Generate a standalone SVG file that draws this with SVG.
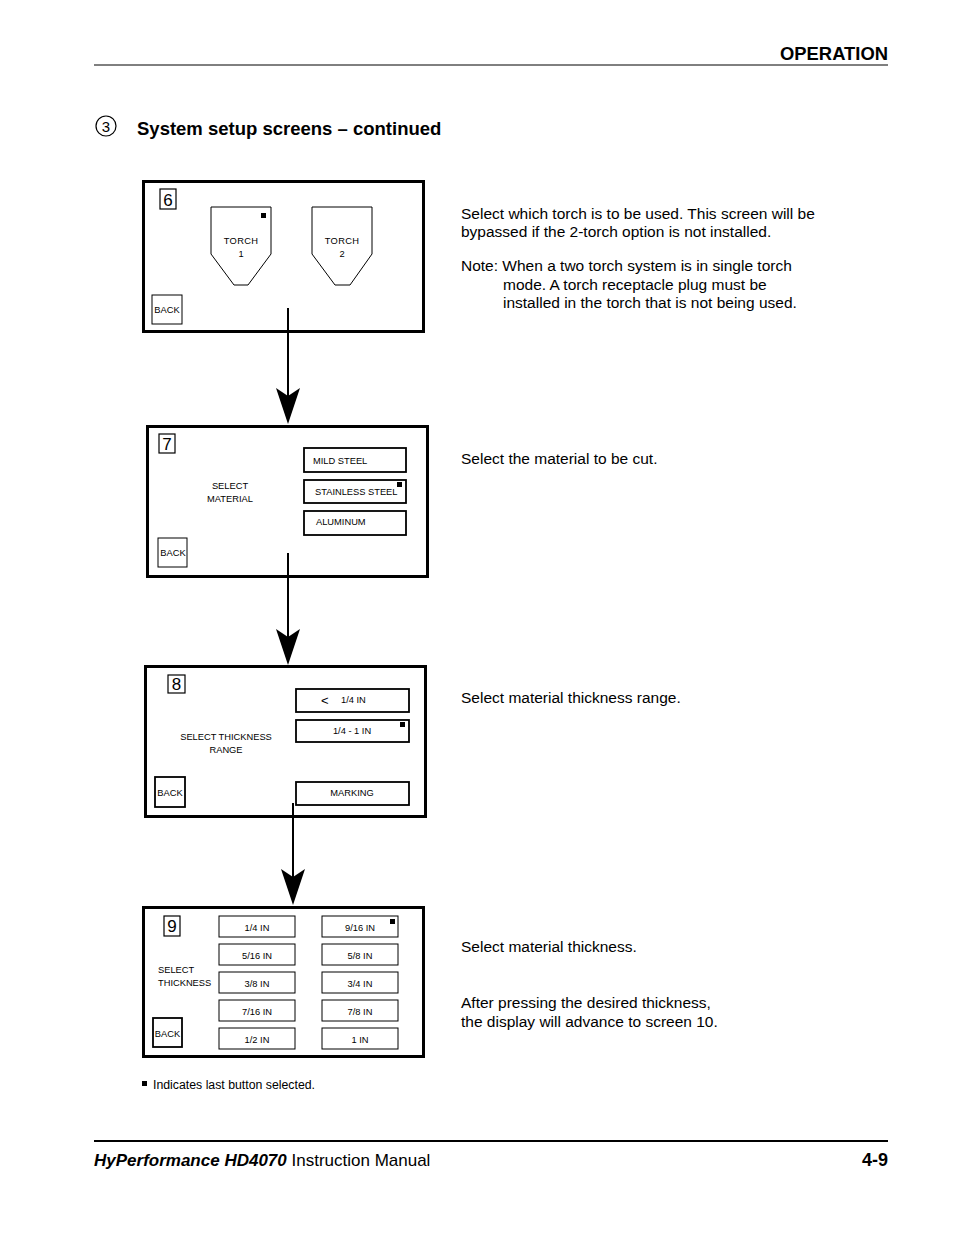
<svg xmlns="http://www.w3.org/2000/svg" width="954" height="1235" viewBox="0 0 954 1235">
<defs>
<style>
text{font-family:"Liberation Sans",Arial,sans-serif;fill:#000}
.scr{fill:#fff;stroke:#000;stroke-width:3}
.btn{fill:#fff;stroke:#000;stroke-width:1.8}
.thin{fill:#fff;stroke:#000;stroke-width:1}
.num{fill:#fff;stroke:#000;stroke-width:1.2}
.s{font-size:9.3px}
.n{font-size:17px}
.d{font-size:15.5px}
.mk{fill:#000}
.conn{stroke:#000;stroke-width:2;fill:none}
.head{fill:#000}
</style>
</defs>
<rect width="954" height="1235" fill="#fff"/>

<g id="header">
<text x="888" y="60" text-anchor="end" font-size="18.4" font-weight="bold">OPERATION</text>
<line x1="94" y1="65" x2="888" y2="65" stroke="#000" stroke-width="1"/>
<circle cx="106" cy="126" r="10" fill="none" stroke="#000" stroke-width="1.2"/>
<text x="106" y="131.5" text-anchor="middle" font-size="15">3</text>
<text x="137" y="135" font-size="18.5" font-weight="bold">System setup screens – continued</text>
</g>

<g id="screen6">
<rect class="scr" x="143.5" y="181.5" width="280" height="150"/>
<rect class="num" x="160" y="189" width="16" height="20"/>
<text x="168" y="206" text-anchor="middle" class="n">6</text>
<path class="thin" d="M211,207 H271 V254 L248,285 H234 L211,254 Z"/>
<rect class="mk" x="261" y="213" width="5" height="5"/>
<text x="241" y="244" text-anchor="middle" class="s" letter-spacing="0.3">TORCH</text>
<text x="241" y="257" text-anchor="middle" class="s">1</text>
<path class="thin" d="M312,207 H372 V254 L350,285 H335 L312,254 Z"/>
<text x="342" y="244" text-anchor="middle" class="s" letter-spacing="0.3">TORCH</text>
<text x="342" y="257" text-anchor="middle" class="s">2</text>
<rect class="thin" x="152" y="295" width="30" height="29"/>
<text x="167" y="313" text-anchor="middle" class="s">BACK</text>
</g>

<g id="screen7">
<rect class="scr" x="147.5" y="426.5" width="280" height="150"/>
<rect class="num" x="159" y="434" width="16" height="19"/>
<text x="167" y="450" text-anchor="middle" class="n">7</text>
<rect class="btn" x="304" y="448" width="102" height="24"/>
<text x="313" y="464" class="s">MILD STEEL</text>
<rect class="btn" x="304" y="480" width="102" height="23"/>
<text x="315" y="495" class="s">STAINLESS STEEL</text>
<rect class="mk" x="397" y="482" width="5" height="5"/>
<rect class="btn" x="304" y="511" width="102" height="24"/>
<text x="316" y="525" class="s">ALUMINUM</text>
<text x="230" y="489" text-anchor="middle" class="s">SELECT</text>
<text x="230" y="502" text-anchor="middle" class="s">MATERIAL</text>
<rect class="thin" x="158" y="538" width="29" height="29"/>
<text x="173" y="556" text-anchor="middle" class="s">BACK</text>
</g>

<g id="screen8">
<rect class="scr" x="145.5" y="666.5" width="280" height="150"/>
<rect class="num" x="168" y="675" width="17" height="18"/>
<text x="176.5" y="690" text-anchor="middle" class="n">8</text>
<rect class="btn" x="296" y="689" width="113" height="23"/>
<text x="321" y="705" font-size="13">&lt;</text>
<text x="341" y="703" class="s">1/4 IN</text>
<rect class="btn" x="296" y="720" width="113" height="22"/>
<text x="352" y="734" text-anchor="middle" class="s">1/4 - 1 IN</text>
<rect class="mk" x="400" y="722" width="5" height="5"/>
<rect class="btn" x="296" y="782" width="113" height="23"/>
<text x="352" y="796" text-anchor="middle" class="s">MARKING</text>
<text x="226" y="740" text-anchor="middle" class="s">SELECT THICKNESS</text>
<text x="226" y="753" text-anchor="middle" class="s">RANGE</text>
<rect class="btn" x="155" y="777" width="30" height="30"/>
<text x="170" y="796" text-anchor="middle" class="s">BACK</text>
</g>

<g id="screen9">
<rect class="scr" x="143.5" y="907.5" width="280" height="149"/>
<rect class="num" x="164" y="916" width="16" height="20"/>
<text x="172" y="932" text-anchor="middle" class="n">9</text>
<g class="s" text-anchor="middle">
<rect class="thin" x="219" y="916" width="76" height="21"/><text x="257" y="931">1/4 IN</text>
<rect class="thin" x="219" y="944" width="76" height="21"/><text x="257" y="959">5/16 IN</text>
<rect class="thin" x="219" y="972" width="76" height="21"/><text x="257" y="987">3/8 IN</text>
<rect class="thin" x="219" y="1000" width="76" height="21"/><text x="257" y="1015">7/16 IN</text>
<rect class="thin" x="219" y="1028" width="76" height="21"/><text x="257" y="1043">1/2 IN</text>
<rect class="thin" x="322" y="916" width="76" height="21"/><text x="360" y="931">9/16 IN</text>
<rect class="thin" x="322" y="944" width="76" height="21"/><text x="360" y="959">5/8 IN</text>
<rect class="thin" x="322" y="972" width="76" height="21"/><text x="360" y="987">3/4 IN</text>
<rect class="thin" x="322" y="1000" width="76" height="21"/><text x="360" y="1015">7/8 IN</text>
<rect class="thin" x="322" y="1028" width="76" height="21"/><text x="360" y="1043">1 IN</text>
</g>
<rect class="mk" x="390" y="919" width="5" height="5"/>
<text x="158" y="973" class="s">SELECT</text>
<text x="158" y="986" class="s">THICKNESS</text>
<rect class="btn" x="153" y="1018" width="29" height="29"/>
<text x="167.5" y="1037" text-anchor="middle" class="s">BACK</text>
</g>

<g id="connectors">
<line class="conn" x1="288" y1="308" x2="288" y2="400"/>
<path class="head" d="M276,388 L288,396 L300,388 L288,424 Z"/>
<line class="conn" x1="288" y1="553" x2="288" y2="640"/>
<path class="head" d="M276,629 L288,637 L300,629 L288,665 Z"/>
<line class="conn" x1="293" y1="803" x2="293" y2="880"/>
<path class="head" d="M281,869 L293,877 L305,869 L293,905 Z"/>
</g>

<g id="notes">
<rect x="142" y="1081" width="5" height="5" fill="#000"/>
<text x="153" y="1089" font-size="12.3">Indicates last button selected.</text>
<text x="461" y="219" class="d">Select which torch is to be used. This screen will be</text>
<text x="461" y="237" class="d">bypassed if the 2-torch option is not installed.</text>
<text x="461" y="271" class="d">Note: When a two torch system is in single torch</text>
<text x="503" y="290" class="d">mode. A torch receptacle plug must be</text>
<text x="503" y="308" class="d">installed in the torch that is not being used.</text>
<text x="461" y="464" class="d">Select the material to be cut.</text>
<text x="461" y="703" class="d">Select material thickness range.</text>
<text x="461" y="952" class="d">Select material thickness.</text>
<text x="461" y="1008" class="d">After pressing the desired thickness,</text>
<text x="461" y="1027" class="d">the display will advance to screen 10.</text>
</g>

<g id="footer">
<line x1="94" y1="1141" x2="888" y2="1141" stroke="#000" stroke-width="2"/>
<text x="94" y="1166" font-size="17"><tspan font-weight="bold" font-style="italic">HyPerformance HD4070</tspan> Instruction Manual</text>
<text x="888" y="1166" text-anchor="end" font-size="18" font-weight="bold">4-9</text>
</g>
</svg>
